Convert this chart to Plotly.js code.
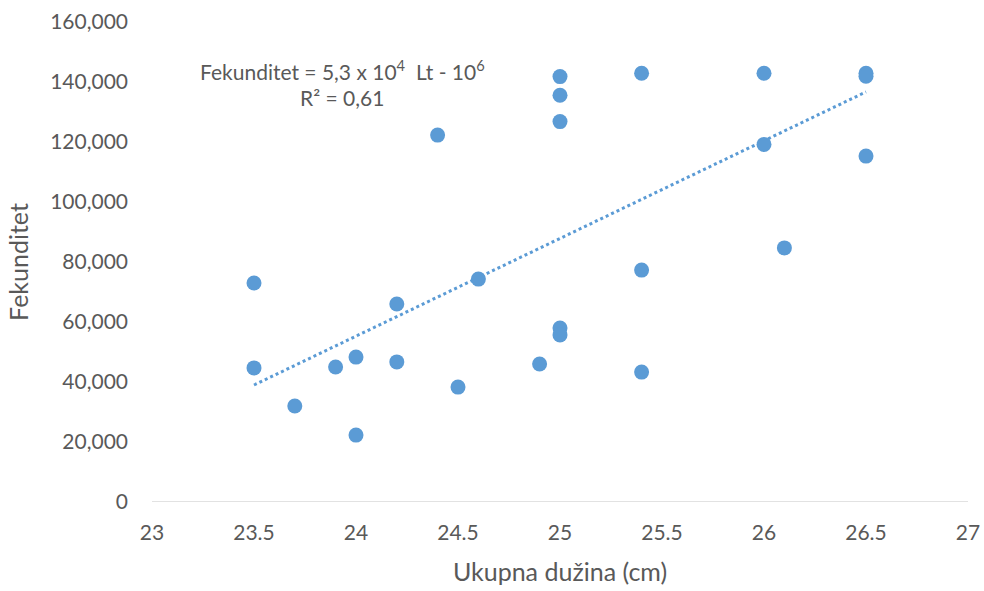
<!DOCTYPE html>
<html>
<head>
<meta charset="utf-8">
<script src="https://cdn.plot.ly/plotly-3.0.1.min.js"></script>
<style>html,body{margin:0;padding:0;background:#fff;}#chart{width:984px;height:591px;}</style>
</head>
<body>
<div id="chart"></div>
<script>
var lengthCm = [23.5, 23.5, 23.7, 23.9, 24.0, 24.0, 24.2, 24.2, 24.4, 24.5, 24.6, 24.9, 25.0, 25.0, 25.0, 25.0, 25.0, 25.4, 25.4, 25.4, 26.0, 26.0, 26.1, 26.5, 26.5, 26.5];
var fecundity = [73000, 44700, 32000, 45000, 48300, 22300, 66000, 46700, 122300, 38300, 74300, 46000, 141800, 135600, 126800, 58000, 55700, 142900, 77300, 43300, 142900, 119200, 84700, 142900, 141900, 115300];
var trendX = [23.5, 26.5];
var trendY = [39000, 136700];
var xTicks = [23, 23.5, 24, 24.5, 25, 25.5, 26, 26.5, 27];
var yTicks = [0, 20000, 40000, 60000, 80000, 100000, 120000, 140000, 160000];
var yTickText = ['0', '20,000', '40,000', '60,000', '80,000', '100,000', '120,000', '140,000', '160,000'];

var blue = '#5B9BD5';
var fontFam = 'Lato, Open Sans, sans-serif';
var grey = '#595959';

var traces = [
  {x: trendX, y: trendY, type: 'scatter', mode: 'lines',
   line: {color: blue, width: 3, dash: 'dot'}, hoverinfo: 'skip', showlegend: false},
  {x: lengthCm, y: fecundity, type: 'scatter', mode: 'markers',
   marker: {color: blue, size: 15}, showlegend: false}
];

var layout = {
  width: 984, height: 591,
  margin: {l: 152, r: 16, t: 22, b: 89},
  paper_bgcolor: '#fff', plot_bgcolor: '#fff',
  font: {family: fontFam, color: grey, size: 21},
  xaxis: {
    range: [23, 27], tickvals: xTicks, ticktext: xTicks.map(String),
    showgrid: false, zeroline: false, showline: false, ticks: '',
    tickfont: {size: 21, color: grey}, ticklabelstandoff: 16,
    title: {text: 'Ukupna dužina (cm)', font: {size: 25, color: grey}, standoff: 20}
  },
  yaxis: {
    range: [0, 160000], tickvals: yTicks, ticktext: yTickText,
    showgrid: false, zeroline: false, showline: false, ticks: '',
    tickfont: {size: 21, color: grey}, ticklabelstandoff: 23,
    title: {text: 'Fekunditet', font: {size: 25, color: grey}, standoff: 14}
  },
  shapes: [
    {type: 'line', xref: 'paper', yref: 'y', x0: 0, x1: 1, y0: 0, y1: 0,
     line: {color: '#d9d9d9', width: 1.5}, layer: 'below'}
  ],
  annotations: [
    {xref: 'paper', yref: 'paper', x: (342 - 152) / 816, y: (502 - 70) / 480,
     text: 'Fekunditet = 5,3 x 10<sup>4</sup>  Lt - 10<sup>6</sup>', showarrow: false,
     font: {size: 21, color: grey}, xanchor: 'center', yanchor: 'middle'},
    {xref: 'paper', yref: 'paper', x: (342 - 152) / 816, y: (502 - 97) / 480,
     text: 'R² = 0,61', showarrow: false,
     font: {size: 21, color: grey}, xanchor: 'center', yanchor: 'middle'}
  ]
};

Plotly.newPlot('chart', traces, layout, {displayModeBar: false, staticPlot: true});
</script>
</body>
</html>
